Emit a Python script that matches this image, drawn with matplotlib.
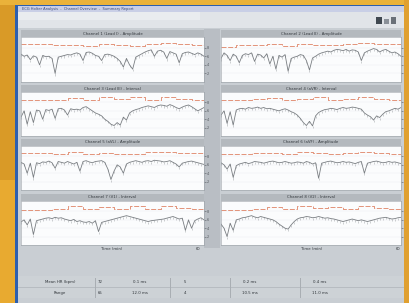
import matplotlib
matplotlib.use("Agg")
import matplotlib.pyplot as plt
import numpy as np
from matplotlib.patches import Rectangle

W, H = 410, 303

# ---------------- data ----------------
panel_titles = [
    "Channel 1 (Lead I) - Amplitude", "Channel 2 (Lead II) - Amplitude",
    "Channel 3 (Lead III) - Interval", "Channel 4 (aVR) - Interval",
    "Channel 5 (aVL) - Amplitude", "Channel 6 (aVF) - Amplitude",
    "Channel 7 (V1) - Interval", "Channel 8 (V2) - Interval",
]

s1 = [6.5,6.0,6.3,5.2,6.1,5.8,4.0,6.2,5.9,6.0,5.5,2.0,5.8,6.0,6.2,6.4,6.3,6.6,6.8,6.5,
      5.0,6.9,7.0,6.7,6.2,6.0,5.0,6.4,6.5,6.3,6.0,5.5,4.8,3.5,5.5,4.0,3.0,5.8,6.2,6.6,
      7.0,7.3,7.5,6.0,7.2,7.4,7.0,5.5,7.1,6.8,6.5,4.5,6.6,6.9,7.0,6.7,6.4,6.8,6.5,6.0]
s2 = [5.5,6.8,6.2,5.0,6.5,6.0,4.5,6.2,6.6,6.4,6.8,4.8,6.5,6.3,5.6,6.6,4.2,6.0,3.0,6.2,
      5.8,6.4,2.5,5.5,5.8,6.0,6.4,6.2,5.0,2.8,5.6,6.0,6.5,6.8,7.0,7.2,7.0,7.4,7.6,7.5,
      7.3,7.6,7.2,7.5,7.4,7.0,5.0,6.8,7.2,7.5,7.8,7.6,7.0,7.4,7.6,7.2,6.8,7.0,6.6,6.0]
s3 = [4.5,6.0,2.8,5.8,3.2,6.2,6.0,4.0,6.3,6.1,6.4,4.2,6.5,6.6,6.2,5.0,6.5,6.3,6.4,6.2,
      6.8,7.0,6.5,6.0,5.5,5.2,4.8,4.0,3.5,2.8,2.5,3.2,2.6,4.5,3.8,5.5,6.0,6.3,6.5,6.8,
      7.0,7.2,7.0,6.8,7.2,7.4,7.3,7.1,7.5,7.2,6.8,6.5,6.9,7.2,7.4,7.0,6.5,6.0,6.4,6.8]
s4 = [5.0,6.0,3.0,5.8,2.6,6.2,6.5,6.6,6.4,6.8,6.6,6.7,6.9,6.6,6.8,6.5,6.6,6.4,6.2,6.0,
      6.3,6.5,6.2,5.8,5.5,5.0,4.2,3.2,2.5,3.5,2.4,4.8,5.6,6.0,6.3,6.4,6.6,6.5,6.3,6.6,
      6.8,6.6,6.7,6.9,6.8,6.6,6.4,5.5,5.0,4.6,3.8,4.8,4.4,5.2,5.8,6.0,6.3,6.6,6.4,6.8]
s5 = [6.6,6.2,4.0,6.4,3.0,6.5,6.3,6.7,6.6,6.9,6.5,5.2,6.8,6.6,6.4,6.8,6.5,6.2,6.6,4.5,
      6.8,7.0,6.7,6.5,6.8,6.9,7.0,6.6,5.0,2.5,4.5,6.0,5.5,4.0,6.2,6.6,6.8,7.0,6.8,6.6,
      6.9,7.0,6.8,7.1,7.0,6.9,6.7,6.8,7.0,6.6,6.2,5.5,6.4,6.6,6.8,6.9,6.7,6.5,6.3,6.1]
s6 = [6.5,6.0,5.0,6.2,3.0,5.8,6.2,6.4,6.6,6.3,6.5,6.8,6.7,6.6,6.4,6.6,6.8,6.9,6.7,6.5,
      6.6,6.8,6.6,6.4,6.5,6.7,6.6,6.4,6.8,6.6,6.2,6.5,2.8,6.4,6.6,6.8,6.9,6.7,6.5,6.6,
      6.8,6.6,6.7,6.5,6.3,6.6,6.8,4.0,6.4,6.6,6.8,6.9,6.7,6.5,6.6,6.8,6.6,6.7,6.5,6.3]
s7 = [5.5,6.0,4.8,6.2,2.5,5.8,6.0,6.2,6.4,6.5,6.3,6.6,6.4,6.5,6.2,6.0,5.8,6.1,5.6,5.8,
      5.5,5.4,5.6,5.2,5.8,3.2,5.4,5.6,5.8,6.0,6.2,6.4,6.6,6.8,7.0,6.8,6.6,6.4,6.2,6.0,
      5.8,5.6,5.8,5.9,6.0,6.1,6.2,6.4,6.6,6.8,6.5,6.2,6.4,3.5,6.0,4.0,5.8,6.2,6.5,6.0]
s8 = [5.0,4.0,2.0,5.2,3.5,6.0,6.2,6.5,6.6,6.8,7.0,6.7,6.5,6.8,6.6,6.4,6.2,6.0,5.6,5.0,
      4.5,4.0,3.8,4.8,5.6,6.2,6.5,6.6,6.8,6.7,6.5,6.6,6.8,6.6,6.4,6.5,6.3,6.2,6.0,5.8,
      5.6,5.8,6.0,6.2,6.0,5.8,6.0,5.8,5.6,5.8,6.0,6.2,6.4,6.5,6.6,6.4,6.2,6.3,6.5,6.6]
series = [s1, s2, s3, s4, s5, s6, s7, s8]

r1 = [8.8,8.8,8.6,8.7,8.5,8.9,8.6,8.4,8.9,9.0,8.8,8.7]
r2 = [8.2,8.6,8.6,8.9,8.5,8.8,8.7,8.6,8.9,9.1,8.9,8.8]
r3 = [8.5,8.5,8.6,9.1,8.7,9.2,8.8,9.3,8.6,9.3,8.8,8.7]
r4 = [8.6,8.5,8.8,9.0,8.6,8.8,9.2,8.7,8.9,9.3,8.8,8.5]
r5 = [8.8,8.8,8.7,9.0,8.6,8.9,8.7,8.5,9.0,9.1,8.9,8.8]
r6 = [8.6,8.6,8.8,8.9,8.7,9.0,8.8,8.6,8.9,9.0,8.8,8.7]
r7 = [8.3,8.3,8.5,9.2,8.6,9.1,8.7,9.2,8.5,9.3,8.9,8.6]
r8 = [8.4,8.4,8.6,9.0,8.6,9.2,8.8,9.1,8.6,9.3,8.9,8.6]
red_levels = [r1, r2, r3, r4, r5, r6, r7, r8]

ytick_vals = [2, 4, 6, 8]
xlabel_text = "Time (min)"
table_row1 = ["Mean HR (bpm)", "72", "0.1 ms", "5", "0.2 ms", "0.4 ms"]
table_row2 = ["Range", "65", "12.0 ms", "4", "10.5 ms", "11.0 ms"]

# ---------------- layout ----------------
fig = plt.figure(figsize=(W / 100, H / 100), dpi=100)
fig.patch.set_facecolor("#e5a42c")


def rect(x0, y0, x1, y1):
    return [x0 / W, 1 - y1 / H, (x1 - x0) / W, (y1 - y0) / H]


def frect(x0, y0, x1, y1, color, z=0, **kw):
    r = Rectangle((x0 / W, 1 - y1 / H), (x1 - x0) / W, (y1 - y0) / H,
                  transform=fig.transFigure, facecolor=color, edgecolor="none",
                  zorder=z, **kw)
    fig.patches.append(r)


# golden background shading
frect(0, 0, 16, 303, "#d99a27", 0)
frect(0, 180, 16, 303, "#e8aa30", 0)
frect(0, 0, 410, 5, "#eab23a", 0)
frect(404, 0, 410, 303, "#e0a030", 0)
# window
frect(15, 5, 404, 303, "#2d5fae", 1)
frect(18, 6, 404, 303, "#c9ced3", 1)
# title bar
frect(18, 6, 404, 12, "#c9cfe6", 2)
fig.text(22 / W, 1 - 9 / H, "ECG Holter Analysis  -  Channel Overview  -  Summary Report",
         fontsize=2.6, color="#3b4a7a", va="center", ha="left")
# toolbar
frect(18, 12, 404, 28, "#e1e4e8", 2)
frect(18, 12, 200, 20, "#e9ecef", 2)
frect(376, 17, 382, 24, "#404850", 3)
frect(384, 19, 389, 24, "#8a9098", 3)
frect(391, 17, 396, 24, "#6a7078", 3)
# middle strip
frect(204, 29, 220, 248, "#b9bec4", 2)

cols = [(21, 204), (221, 401)]
rows = [(30, 37, 82), (85, 92, 136), (139, 146, 190), (194, 201, 245)]

for i in range(8):
    r, c = divmod(i, 2)
    x0, x1 = cols[c]
    ty, py0, py1 = rows[r]
    # grey title strip
    frect(x0, ty, x1, py0, "#b4b9be", 2)
    fig.text((x0 + x1) / 2 / W, 1 - (ty + py0) / 2 / H, panel_titles[i],
             fontsize=2.8, color="#33383d", ha="center", va="center", zorder=5)
    ax = fig.add_axes(rect(x0, py0, x1, py1))
    ax.set_facecolor("#fbfcfd")
    ax.set_zorder(4)
    x = np.arange(len(series[i]))
    ax.plot(x, series[i], color="#5a5f64", lw=0.6, alpha=0.8)
    ax.vlines(x, np.array(series[i]) - 0.5, series[i], color="#70757a", lw=0.4, alpha=0.6)
    rx = np.arange(len(red_levels[i])) * 5
    ax.step(np.append(rx, 59), np.append(red_levels[i], red_levels[i][-1]),
            where="post", color="#d8643f", lw=0.6, ls=(0, (6, 2)), alpha=0.8)
    ax.set_xlim(0, 59)
    ax.set_ylim(0, 10.5)
    ax.set_xticks([])
    ax.set_yticks(ytick_vals)
    ax.tick_params(axis="y", length=1.2, width=0.4, pad=1, labelsize=2.5,
                   colors="#555a60", labelleft=False, labelright=(c == 0),
                   left=False, right=True)
    ax.grid(axis="y", color="#e8ecf0", lw=0.3)
    for s in ax.spines.values():
        s.set_color("#9aa0a6")
        s.set_linewidth(0.4)

# x labels
fig.text(112 / W, 1 - 249 / H, xlabel_text, fontsize=2.8, color="#33383d",
         ha="center", va="center")
fig.text(312 / W, 1 - 249 / H, xlabel_text, fontsize=2.8, color="#33383d",
         ha="center", va="center")
fig.text(400 / W, 1 - 249 / H, "60", fontsize=2.6, color="#33383d",
         ha="right", va="center")
fig.text(200 / W, 1 - 249 / H, "60", fontsize=2.6, color="#33383d",
         ha="right", va="center")

# bottom table
frect(18, 276, 404, 298, "#cdd2d6", 2)
frect(18, 287, 404, 288, "#b7bcc1", 3)
col_x = [60, 100, 140, 185, 250, 320]
for k in range(6):
    fig.text(col_x[k] / W, 1 - 282 / H, table_row1[k], fontsize=2.8,
             color="#2e3338", ha="center", va="center", zorder=6)
    fig.text(col_x[k] / W, 1 - 293 / H, table_row2[k], fontsize=2.8,
             color="#2e3338", ha="center", va="center", zorder=6)
for xx in [95, 170, 230, 300]:
    frect(xx, 278, xx + 1, 298, "#a9aeb3", 3)

fig.savefig("out.png", dpi=100, facecolor=fig.get_facecolor())
